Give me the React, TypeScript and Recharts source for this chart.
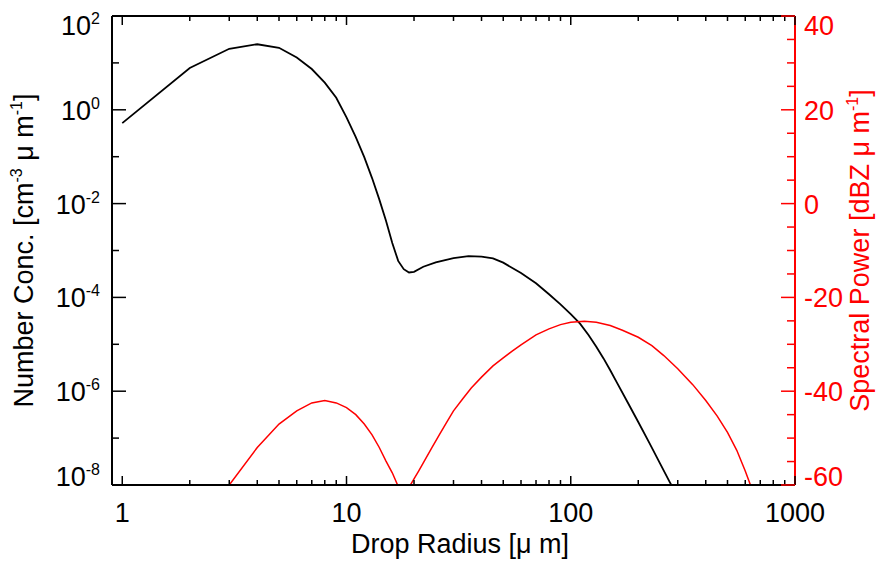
import { Label, Line, LineChart, XAxis, YAxis } from 'recharts'

// drop size distribution (black, left log axis)
const radiusN = [
  1, 2, 3, 4, 5, 6, 7, 8, 9, 10, 11, 12, 13, 14, 15, 16, 17, 18, 19, 20, 22, 25, 30, 35, 40, 45, 50, 60, 70, 80, 90,
  100, 110, 120, 130, 140, 150, 160, 180, 200, 225, 250, 276, 300,
]
const numberConc = [
  0.52, 7.8, 20, 25, 21, 13, 7.4, 3.8, 1.8, 0.69, 0.26, 0.098, 0.035, 0.0123, 0.0043, 0.00145, 6.0e-4, 4.0e-4,
  3.4e-4, 3.5e-4, 4.5e-4, 5.6e-4, 6.9e-4, 7.6e-4, 7.4e-4, 6.8e-4, 5.5e-4, 3.3e-4, 2.0e-4, 1.17e-4, 7.1e-5,
  4.4e-5, 2.75e-5, 1.58e-5, 8.9e-6, 5.0e-6, 2.8e-6, 1.58e-6, 5.6e-7, 2.2e-7, 7.6e-8, 2.9e-8, 1.17e-8, 5.6e-9,
]

// spectral power (red, right dBZ axis)
const radiusP = [
  3, 4, 5, 6, 7, 8, 9, 10, 11, 12, 13, 14, 15, 16, 17, 18, 19, 20, 21, 22, 24, 26, 28, 30, 33, 36, 40, 45, 50, 55,
  60, 70, 80, 90, 100, 115, 130, 150, 170, 200, 230, 260, 300, 350, 400, 450, 500, 550, 600, 650, 700,
]
const spectralPower = [
  -60, -52, -47, -44.2, -42.5, -42, -42.5, -43.5, -45, -47, -49.3, -52, -54.9, -57.4, -60.3, -64, -60.5, -58.7,
  -57, -55.3, -52.1, -49.2, -46.6, -44.2, -41.6, -39.3, -37, -34.6, -32.9, -31.4, -30.1, -28, -26.7, -25.8, -25.3,
  -25.1, -25.3, -26, -27, -28.5, -30.3, -32.4, -35.2, -38.6, -42, -45.3, -48.8, -52.6, -57, -61.5, -65,
]

const xTicks = [1, 2, 3, 4, 5, 6, 7, 8, 9, 10, 20, 30, 40, 50, 60, 70, 80, 90, 100, 200, 300, 400, 500, 600, 700, 800, 900, 1000]
const leftTicks = [1e-8, 1e-7, 1e-6, 1e-5, 1e-4, 1e-3, 1e-2, 1e-1, 1, 10, 100]
const rightTicks = [-60, -55, -50, -45, -40, -35, -30, -25, -20, -15, -10, -5, 0, 5, 10, 15, 20, 25, 30, 35, 40]

const blackData = radiusN.map((r, i) => ({ r, n: numberConc[i] }))
const redData = radiusP.map((r, i) => ({ r, p: spectralPower[i] }))

const FONT = '"Liberation Sans", Arial, Helvetica, sans-serif'
const RED = '#ff0000'
const FS = 27
const SUP = 16

const isDecade = (v: number) => {
  const l = Math.log10(v)
  return Math.abs(l - Math.round(l)) < 1e-6
}

function BottomTick({ x, y, payload }: any) {
  const v = payload.value
  const major = isDecade(v)
  return (
    <g>
      <line x1={x} x2={x} y1={y} y2={y - (major ? 9 : 5)} stroke="#000" strokeWidth={1.5} />
      {major && (
        <text x={x} y={y + 37} textAnchor="middle" fontSize={FS} fontFamily={FONT} fill="#000">
          {v}
        </text>
      )}
    </g>
  )
}

function TopTick({ x, y, payload }: any) {
  const major = isDecade(payload.value)
  return <line x1={x} x2={x} y1={y} y2={y + (major ? 9 : 5)} stroke="#000" strokeWidth={1.5} />
}

function LeftTick({ x, y, payload }: any) {
  const v = payload.value
  const exp = Math.round(Math.log10(v))
  const major = exp % 2 === 0
  let shift = 0
  if (v === leftTicks[leftTicks.length - 1]) shift = 9
  if (v === leftTicks[0]) shift = -9
  return (
    <g>
      <line x1={x} x2={x + (major ? 14 : 7)} y1={y} y2={y} stroke="#000" strokeWidth={1.5} />
      {major && (
        <text x={x - 12} y={y + shift + 10} textAnchor="end" fontSize={FS} fontFamily={FONT} fill="#000">
          10<tspan dy={-11} fontSize={SUP}>{String(exp)}</tspan>
        </text>
      )}
    </g>
  )
}

function RightTick({ x, y, payload }: any) {
  const v = payload.value
  const major = v % 20 === 0
  let shift = 0
  if (v === rightTicks[rightTicks.length - 1]) shift = 9
  if (v === rightTicks[0]) shift = -9
  return (
    <g>
      <line x1={x} x2={x - (major ? 14 : 8)} y1={y} y2={y} stroke={RED} strokeWidth={1.5} />
      {major && (
        <text x={x + 9} y={y + shift + 10} textAnchor="start" fontSize={FS} fontFamily={FONT} fill={RED}>
          {String(v)}
        </text>
      )}
    </g>
  )
}

const LeftTitle = ({ viewBox }: any) => {
  const cy = viewBox.y + viewBox.height / 2
  return (
    <text transform={`translate(33,${cy}) rotate(-90)`} textAnchor="middle" fontSize={FS} fontFamily={FONT} fill="#000">
      {'Number Conc. [cm'}
      <tspan dy={-11} fontSize={SUP}>-3</tspan>
      <tspan dy={11}>{' \u03bc m'}</tspan>
      <tspan dy={-11} fontSize={SUP}>-1</tspan>
      <tspan dy={11}>]</tspan>
    </text>
  )
}

const RightTitle = ({ viewBox }: any) => {
  const cy = viewBox.y + viewBox.height / 2
  return (
    <text transform={`translate(869,${cy}) rotate(-90)`} textAnchor="middle" fontSize={FS} fontFamily={FONT} fill={RED}>
      {'Spectral Power [dBZ \u03bc m'}
      <tspan dy={-11} fontSize={SUP}>-1</tspan>
      <tspan dy={11}>]</tspan>
    </text>
  )
}

const BottomTitle = () => (
  <text x={460} y={553} textAnchor="middle" fontSize={FS} fontFamily={FONT} fill="#000">
    {'Drop Radius [\u03bc m]'}
  </text>
)

export default function App() {
  return (
    <div style={{ position: 'absolute', left: 0, top: 0, background: '#fff' }}>
      <LineChart width={877} height={566} margin={{ top: 0, right: 12, bottom: 31, left: 12 }}>
        <XAxis
          xAxisId="bottom"
          dataKey="r"
          type="number"
          scale="log"
          domain={[0.9, 1000]}
          allowDataOverflow
          ticks={xTicks}
          interval={0}
          height={50}
          tickSize={0}
          tickMargin={0}
          tickLine={false}
          tick={<BottomTick />}
          axisLine={{ stroke: '#000', strokeWidth: 2 }}
        >
          <Label content={<BottomTitle />} />
        </XAxis>
        <XAxis
          xAxisId="top"
          orientation="top"
          dataKey="r"
          type="number"
          scale="log"
          domain={[0.9, 1000]}
          allowDataOverflow
          ticks={xTicks}
          interval={0}
          height={16}
          tickSize={0}
          tickMargin={0}
          tickLine={false}
          tick={<TopTick />}
          axisLine={{ stroke: '#000', strokeWidth: 2 }}
        />
        <YAxis
          yAxisId="left"
          type="number"
          scale="log"
          domain={[1e-8, 100]}
          allowDataOverflow
          ticks={leftTicks}
          interval={0}
          width={100}
          tickSize={0}
          tickMargin={0}
          tickLine={false}
          tick={<LeftTick />}
          axisLine={{ stroke: '#000', strokeWidth: 2 }}
        >
          <Label content={<LeftTitle />} />
        </YAxis>
        <YAxis
          yAxisId="right"
          orientation="right"
          type="number"
          domain={[-60, 40]}
          allowDataOverflow
          ticks={rightTicks}
          interval={0}
          width={70}
          tickSize={0}
          tickMargin={0}
          tickLine={false}
          tick={<RightTick />}
          axisLine={{ stroke: RED, strokeWidth: 2 }}
        >
          <Label content={<RightTitle />} />
        </YAxis>
        <Line
          data={blackData}
          dataKey="n"
          xAxisId="bottom"
          yAxisId="left"
          type="linear"
          stroke="#000"
          strokeWidth={1.8}
          dot={false}
          activeDot={false}
          isAnimationActive={false}
        />
        <Line
          data={redData}
          dataKey="p"
          xAxisId="top"
          yAxisId="right"
          type="linear"
          stroke={RED}
          strokeWidth={1.5}
          dot={false}
          activeDot={false}
          isAnimationActive={false}
        />
      </LineChart>
    </div>
  )
}
